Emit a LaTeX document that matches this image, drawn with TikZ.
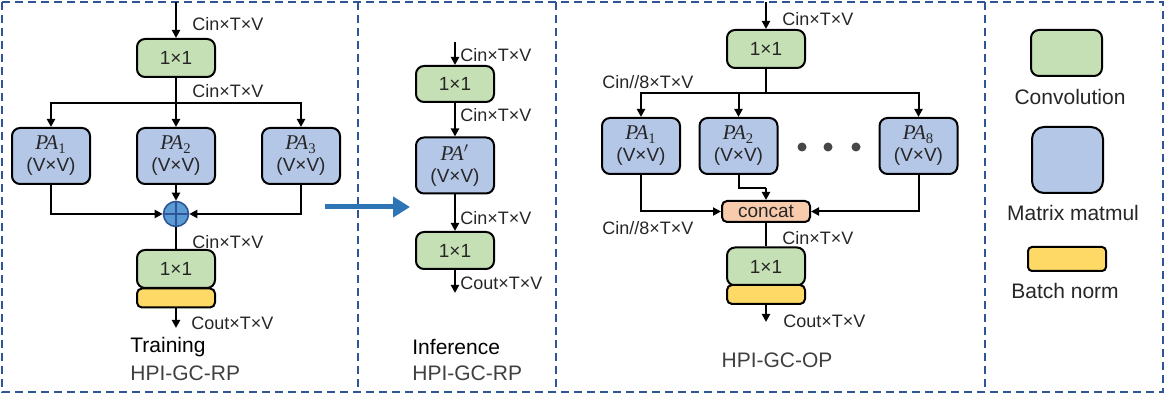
\documentclass[tikz,border=0pt]{standalone}
\usepackage{fontspec}
\setmainfont{Liberation Sans}
\newfontfamily\pafont{Liberation Serif}
\usetikzlibrary{arrows.meta,positioning}
\definecolor{convg}{HTML}{C5E0B4}
\definecolor{matb}{HTML}{B4C7E7}
\definecolor{bny}{HTML}{FFD966}
\definecolor{catc}{HTML}{F8CBAD}
\definecolor{frm}{HTML}{2F5597}
\definecolor{sumf}{HTML}{5B9BD5}
\definecolor{sumd}{HTML}{2F5597}
\definecolor{bigarr}{HTML}{2E75B6}
\definecolor{txt}{HTML}{262626}
\definecolor{sub}{HTML}{404040}
\newcommand{\pa}[1]{{\pafont\itshape\fontsize{10.5}{11}\selectfont PA\textsubscript{\upshape #1}}}
\begin{document}
\begin{tikzpicture}[x=0.5pt,y=-0.5pt,
  blk/.style={draw,line width=1pt,rounded corners=4pt,inner sep=0pt,align=center,font=\fontsize{9.5}{11}\selectfont,text=txt},
  conv/.style={blk,fill=convg,minimum width=39pt,minimum height=19pt},
  mat/.style={blk,fill=matb,minimum width=39pt,minimum height=28pt},
  bn/.style={blk,fill=bny,minimum width=39pt,minimum height=9.5pt,rounded corners=2.5pt},
  cat/.style={blk,fill=catc,minimum width=44pt,minimum height=10.5pt,rounded corners=2.5pt},
  lbl/.style={anchor=west,inner sep=0pt,font=\fontsize{9}{10}\selectfont,text=txt},
  ttl/.style={anchor=west,inner sep=0pt,font=\fontsize{10.5}{12}\selectfont},
  leg/.style={inner sep=0pt,font=\fontsize{10.5}{12}\selectfont,text=txt},
  dot/.style={circle,fill=txt!85,inner sep=0pt,minimum size=4.5pt},
  arr/.style={-{Triangle[length=4pt,width=4pt]},line width=1pt},
  ln/.style={line width=1pt},
  frame/.style={draw=frm,line width=1pt,dash pattern=on 4pt off 2.5pt}
]
\useasboundingbox (0,0) rectangle (1172,400);
\draw[frame] (2,2) rectangle (1163,392);
\draw[frame] (358,2) -- (358,392);
\draw[frame] (556,2) -- (556,392);
\draw[frame] (985,2) -- (985,392);

\coordinate (ina) at (176,2);
\node[conv] (conv1a) at (176,58) {1×1};
\coordinate (splita) at (176,103);
\node[mat] (pa1a) at (51,156) {\pa{1}\\(V×V)};
\node[mat] (pa2a) at (176,156) {\pa{2}\\(V×V)};
\node[mat] (pa3a) at (301,156) {\pa{3}\\(V×V)};
\node[circle,draw=sumd,fill=sumf,line width=0.8pt,minimum size=12.5pt,inner sep=0pt,
  path picture={\draw[sumd,line width=0.8pt] (path picture bounding box.north)--(path picture bounding box.south)
  (path picture bounding box.west)--(path picture bounding box.east);}] (sum) at (176,214) {};
\node[conv] (conv2a) at (176,269) {1×1};
\node[bn] (bna) at (176,298) {};
\coordinate (outa) at (176,328);
\node[lbl] at (192,24) {Cin×T×V};
\node[lbl] at (192,91) {Cin×T×V};
\node[lbl] at (192,242) {Cin×T×V};
\node[lbl] at (191,323) {Cout×T×V};
\node[ttl] (traina) at (130,347) {Training};
\node[ttl,text=sub] (namea) at (130,373) {HPI-GC-RP};

\draw[arr] (ina) -- (conv1a);
\draw[ln] (conv1a) -- (splita);
\draw[arr] (splita) -| (pa1a);
\draw[arr] (splita) -- (pa2a);
\draw[arr] (splita) -| (pa3a);
\draw[arr] (pa1a) |- (sum);
\draw[arr] (pa2a) -- (sum);
\draw[arr] (pa3a) |- (sum);
\draw[ln] (sum) -- (conv2a);
\draw[arr] (bna) -- (outa);

\coordinate (bigs) at (325,207);
\coordinate (bige) at (410,207);
\draw[-{Triangle[length=8.5pt,width=10pt]},line width=2.5pt,bigarr] (bigs) -- (bige);

\coordinate (inb) at (455,42);
\node[conv,minimum height=18pt] (conv1b) at (455,84) {1×1};
\node[mat] (pab) at (455,165.5) {{\pafont\itshape\fontsize{10.5}{11}\selectfont PA}$'$\\(V×V)};
\node[conv,minimum height=18.5pt] (conv2b) at (455,250.5) {1×1};
\coordinate (outb) at (455,293);
\node[lbl] at (460,55) {Cin×T×V};
\node[lbl] at (460,115) {Cin×T×V};
\node[lbl] at (460,218) {Cin×T×V};
\node[lbl] at (460,283) {Cout×T×V};
\node[ttl] (trainb) at (412,347) {Inference};
\node[ttl,text=sub] (nameb) at (412,373) {HPI-GC-RP};

\draw[arr] (inb) -- (conv1b);
\draw[arr] (conv1b) -- (pab);
\draw[arr] (pab) -- (conv2b);
\draw[arr] (conv2b) -- (outb);

\coordinate (inc) at (766,2);
\node[conv] (conv1c) at (766,49) {1×1};
\coordinate (splitc) at (766,93);
\node[mat] (pa1c) at (641,146) {\pa{1}\\(V×V)};
\node[mat] (pa2c) at (738.5,146) {\pa{2}\\(V×V)};
\node[mat] (pa8c) at (918.5,146) {\pa{8}\\(V×V)};
\foreach \i/\x in {1/802,2/828,3/856}
  \node[dot] (dot\i) at (\x,147) {};
\node[cat] (cat) at (766,211.5) {concat};
\coordinate (kinkc) at (766,188);
\node[conv] (conv2c) at (766,266.5) {1×1};
\node[bn] (bnc) at (766,294.5) {};
\coordinate (outc) at (766,322);
\node[lbl] at (782,19) {Cin×T×V};
\node[lbl] at (602,82) {Cin//8×T×V};
\node[lbl] at (602,228) {Cin//8×T×V};
\node[lbl] at (782,238) {Cin×T×V};
\node[lbl] at (783,321) {Cout×T×V};
\node[ttl,anchor=center,text=sub] (namec) at (777,360) {HPI-GC-OP};

\draw[arr] (inc) -- (conv1c);
\draw[ln] (conv1c) -- (splitc);
\draw[arr] (splitc) -| (pa1c);
\draw[arr] (splitc) -| (pa2c);
\draw[arr] (splitc) -| (pa8c);
\draw[arr] (pa1c) |- (cat);
\draw[ln] (pa2c) |- (kinkc);
\draw[arr] (kinkc) -- (cat);
\draw[arr] (pa8c) |- (cat);
\draw[ln] (cat) -- (conv2c);
\draw[arr] (bnc) -- (outc);

\node[blk,fill=convg,minimum width=35.5pt,minimum height=23pt] (lgconv) at (1066.5,53) {};
\node[leg] at (1070,97) {Convolution};
\node[blk,fill=matb,minimum width=35.5pt,minimum height=33pt,rounded corners=6pt] (lgmat) at (1067.5,160) {};
\node[leg] at (1073,213) {Matrix matmul};
\node[bn,minimum height=12pt,rounded corners=2pt] (lgbn) at (1067,259) {};
\node[leg] at (1065,291) {Batch norm};
\end{tikzpicture}
\end{document}
